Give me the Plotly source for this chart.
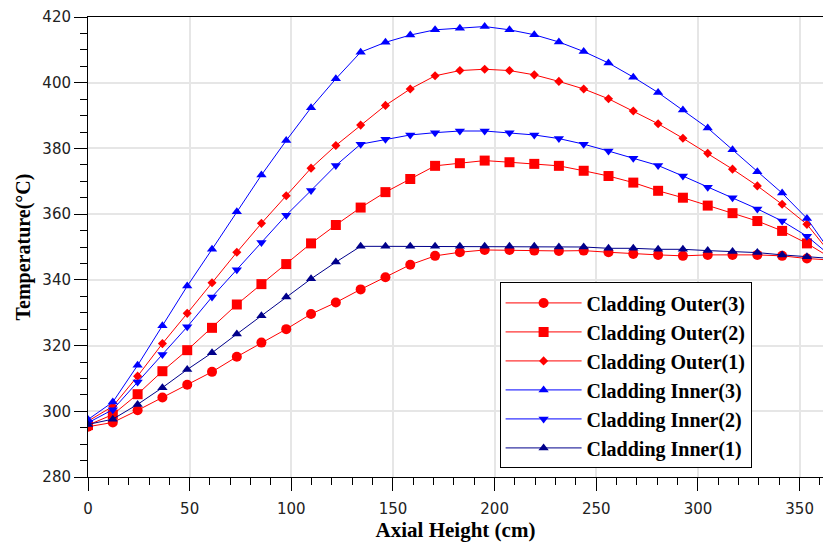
import plotly.graph_objects as go

axial_height = [0, 12.2, 24.4, 36.6, 48.8, 61.0, 73.2, 85.3, 97.5, 109.7, 121.9, 134.1,
                146.3, 158.5, 170.7, 182.9, 195.1, 207.3, 219.5, 231.6, 243.8, 256.0,
                268.2, 280.4, 292.6, 304.8, 317.0, 329.2, 341.4, 353.6, 365.8]

outer_3 = [295.3, 296.6, 300.3, 304.2, 308.1, 312.0, 316.6, 320.9, 325.0, 329.6, 333.1,
           337.1, 340.8, 344.6, 347.3, 348.4, 349.1, 349.1, 348.9, 348.8, 348.9, 348.4,
           347.9, 347.6, 347.3, 347.6, 347.6, 347.6, 347.3, 346.5, 346.0]
outer_2 = [295.8, 299.0, 305.2, 312.2, 318.6, 325.4, 332.5, 338.7, 344.8, 351.1, 356.7,
           362.0, 366.7, 370.7, 374.7, 375.5, 376.3, 375.8, 375.3, 374.7, 373.2, 371.6,
           369.6, 367.1, 365.0, 362.6, 360.3, 357.9, 354.9, 351.1, 346.5]
outer_1 = [297.0, 301.5, 310.7, 320.6, 329.8, 339.1, 348.4, 357.2, 365.6, 374.0, 380.9,
           387.1, 393.1, 398.1, 402.1, 403.7, 404.1, 403.7, 402.4, 400.4, 398.1, 395.1,
           391.4, 387.5, 383.1, 378.5, 373.7, 368.6, 363.0, 356.9, 347.5]
inner_3 = [297.5, 302.8, 314.0, 326.0, 338.1, 349.3, 360.7, 371.9, 382.4, 392.4, 401.2,
           409.3, 412.3, 414.5, 416.1, 416.6, 417.1, 416.1, 414.6, 412.4, 409.5, 406.0,
           401.7, 397.0, 391.7, 386.2, 379.6, 372.9, 366.4, 358.7, 348.0]
inner_2 = [296.5, 300.5, 308.9, 317.3, 325.7, 334.8, 343.1, 351.4, 359.7, 367.2, 374.8,
           381.3, 382.8, 384.1, 384.8, 385.3, 385.3, 384.8, 384.1, 383.0, 381.3, 379.2,
           377.0, 374.8, 371.6, 368.2, 365.0, 361.6, 357.9, 353.3, 347.0]
inner_1 = [296.0, 297.6, 302.1, 307.2, 312.7, 317.8, 323.5, 329.1, 334.8, 340.3, 345.4,
           350.2, 350.2, 350.2, 350.2, 350.2, 350.2, 350.2, 350.2, 350.0, 350.0, 349.6,
           349.6, 349.3, 349.3, 348.9, 348.6, 348.3, 347.6, 347.0, 346.5]

series_names = ["Cladding Outer(3)", "Cladding Outer(2)", "Cladding Outer(1)",
                "Cladding Inner(3)", "Cladding Inner(2)", "Cladding Inner(1)"]
series_values = [outer_3, outer_2, outer_1, inner_3, inner_2, inner_1]
series_colors = ["#FF0000", "#FF0000", "#FF0000", "#0000FF", "#0000FF", "#00008B"]
series_symbols = ["circle", "square", "diamond", "triangle-up", "triangle-down", "triangle-up"]
series_sizes = [10, 10, 7, 9, 9, 9]

x_ticks = [0, 50, 100, 150, 200, 250, 300, 350]
y_ticks = [280, 300, 320, 340, 360, 380, 400, 420]

fig = go.Figure()
for name, vals, col, sym, sz in zip(series_names, series_values, series_colors,
                                    series_symbols, series_sizes):
    fig.add_trace(go.Scatter(
        x=axial_height, y=vals, name=name, mode="lines+markers",
        line=dict(color=col, width=1),
        marker=dict(symbol=sym, size=sz, color=col, line=dict(width=0)),
    ))

tick_font = dict(family="DejaVu Sans", size=15, color="#222222")

fig.update_layout(
    width=823, height=543,
    margin=dict(l=88, r=0, t=17, b=66),
    paper_bgcolor="white", plot_bgcolor="white",
    showlegend=True,
    legend=dict(
        x=0.56, y=0.423, xanchor="left", yanchor="top",
        bgcolor="white", bordercolor="black", borderwidth=1,
        font=dict(family="Liberation Serif", size=20, color="#000000", weight="bold"),
        itemwidth=76,
    ),
    xaxis=dict(
        range=[0, 361.5], tickvals=x_ticks, ticks="outside", ticklen=13, tickwidth=1,
        tickcolor="black", showline=True, linecolor="black", linewidth=1, mirror=True,
        showgrid=True, gridcolor="#e6e6e6", gridwidth=1.5, zeroline=False,
        tickfont=tick_font, ticklabelstandoff=5,
        minor=dict(ticks="outside", ticklen=7, dtick=10, tickcolor="black", showgrid=False),
        title=dict(text="<b>Axial Height (cm)</b>",
                   font=dict(family="Liberation Serif", size=21, color="#000000"), standoff=5),
    ),
    yaxis=dict(
        range=[280, 420], tickvals=y_ticks, ticks="outside", ticklen=13, tickwidth=1,
        tickcolor="black", showline=True, linecolor="black", linewidth=1, mirror=False,
        showgrid=True, gridcolor="#e6e6e6", gridwidth=1.5, zeroline=False,
        tickfont=tick_font,
        minor=dict(ticks="outside", ticklen=7, dtick=5, tickcolor="black", showgrid=False),
        title=dict(text="<b>Temperature(°C)</b>",
                   font=dict(family="Liberation Serif", size=20, color="#000000"), standoff=6),
    ),
)

fig.write_html("out.html", config={"displayModeBar": False},
               post_script="document.body.style.margin='0';")
